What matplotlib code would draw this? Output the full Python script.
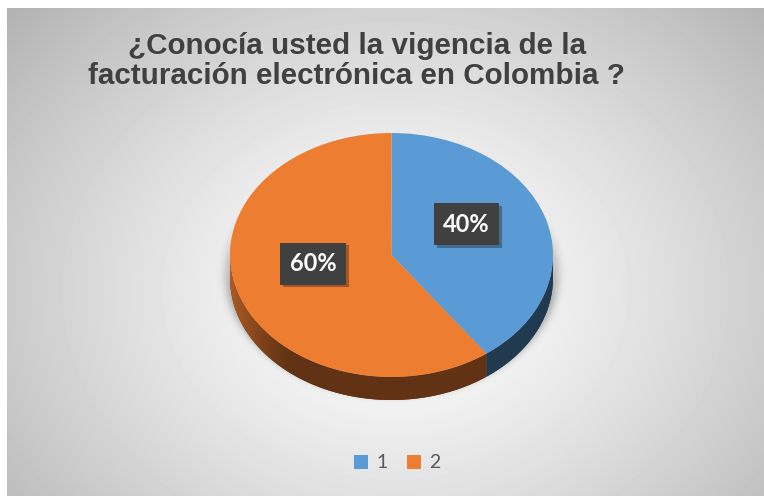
import numpy as np
import matplotlib.pyplot as plt
from matplotlib.patches import Polygon
import matplotlib.patheffects as pe
from matplotlib.colors import to_rgb

# Pie chart data
labels = ['1', '2']
values = [40, 60]
colors = ['#5B9BD5', '#ED7D31']
title = '¿Conocía usted la vigencia de la\nfacturación electrónica en Colombia ?'

W, H = 764, 496
fig = plt.figure(figsize=(W / 100, H / 100), dpi=100)

# background: white strip on top/left, radial grey gradient in chart area
bg = fig.add_axes([0, 0, 1, 1])
bg.set_axis_off()
yy, xx = np.mgrid[0:H, 0:W]
r = np.sqrt(((xx - 395) / 520.0) ** 2 + ((yy - 290) / 420.0) ** 2)
shade = np.clip(1.0 - 0.3 * r ** 1.3, 0, 1)
shade[:8, :] = 1.0
shade[:, :7] = 1.0
bg.imshow(shade, cmap='gray', vmin=0, vmax=1, extent=(0, W, H, 0), aspect='auto')
bg.set_xlim(0, W)
bg.set_ylim(H, 0)

fig.text(357 / W, 1 - 61 / H, title, ha='center', va='center', fontsize=21.3,
         fontweight='bold', color='#404040', family='Liberation Sans', linespacing=1.12)

# pie axes: unit radius -> rx px horizontally, ry px vertically
cx, cy, rx, ry = 391.5, 255, 161.5, 122
depth = 23 / ry
xl, yl_top, yl_bot = 1.25, 1.25, 1.5
ax = fig.add_axes([(cx - xl * rx) / W, (H - (cy + yl_bot * ry)) / H,
                   2 * xl * rx / W, (yl_top + yl_bot) * ry / H])
ax.set_axis_off()

# soft shadow under the pie
gx, gy = np.meshgrid(np.linspace(-xl, xl, 400), np.linspace(-yl_bot, yl_top, 400))
rr = np.sqrt((gx / 1.01) ** 2 + ((gy + depth * 0.75) / 1.0) ** 2)
alpha = 0.28 * np.exp(-(np.clip(rr - 0.99, 0, None) / 0.045) ** 2)
alpha *= np.clip((0.5 - gy) / 0.9, 0, 1)
sh = np.zeros(gx.shape + (4,))
sh[..., 3] = alpha
ax.imshow(sh, extent=(-xl, xl, -yl_bot, yl_top), origin='lower', aspect='auto', zorder=0)


def side_factor(c, x):
    if c == colors[0]:
        return np.full_like(x, 0.38)
    return 0.41 + 0.32 * np.clip((-x - 0.62) / 0.38, 0, 1) ** 1.3


# side walls of the 3D pie (visible front half)
fracs = np.array(values) / np.sum(values)
starts = 90 - 360 * np.concatenate([[0], np.cumsum(fracs)[:-1]])
ends = starts - 360 * fracs
for a1, a2, c in zip(starts, ends, colors):
    lo, hi = min(a1, a2), max(a1, a2)
    base = np.array(to_rgb(c))
    for shift in (-360, 0, 360):
        l, h = max(lo + shift, -180), min(hi + shift, 0)
        if h <= l:
            continue
        tt = np.radians(np.linspace(l, h, 200))
        top = np.column_stack([np.cos(tt), np.sin(tt)])
        bot = np.column_stack([np.cos(tt), np.sin(tt) - depth])[::-1]
        patch = Polygon(np.vstack([top, bot]), closed=True, facecolor=base * 0.41,
                        edgecolor='none', zorder=1)
        ax.add_patch(patch)
        xs = np.linspace(-1, 1, 400)
        grad = np.clip(base[None, None, :] * side_factor(c, xs)[None, :, None], 0, 1)
        im = ax.imshow(np.repeat(grad, 2, axis=0), extent=(-1, 1, -1 - depth, 0),
                       aspect='auto', zorder=1.1, interpolation='bilinear')
        im.set_clip_path(patch)

wedges, _, autotexts = ax.pie(values, colors=colors, startangle=90, counterclock=False,
                              autopct='%1.0f%%', pctdistance=0.52, radius=1,
                              wedgeprops=dict(linewidth=0),
                              textprops=dict(color='white', fontsize=17, fontweight='bold', family='Lato'))
for w in wedges:
    w.set_zorder(2)
for t, dx in zip(autotexts, [-0.03, 0.01]):
    x, y = t.get_position()
    t.set_position((x + dx, y + 0.09))
    t.set_zorder(5)
    t.set_bbox(dict(boxstyle='square,pad=0.4', facecolor='#404040', edgecolor='none'))
    t.get_bbox_patch().set_path_effects([pe.SimplePatchShadow(offset=(2, -2), alpha=0.35), pe.Normal()])

ax.set_aspect('auto')
ax.set_xlim(-xl, xl)
ax.set_ylim(-yl_bot, yl_top)

fig.legend(wedges, labels, loc='center', bbox_to_anchor=(397 / W, 1 - 463 / H), ncol=2,
           frameon=False, handlelength=0.75, handleheight=0.75, handletextpad=0.4,
           columnspacing=1.0, prop=dict(family='Lato', size=14), labelcolor='#595959')

fig.savefig('out.png', dpi=100)
